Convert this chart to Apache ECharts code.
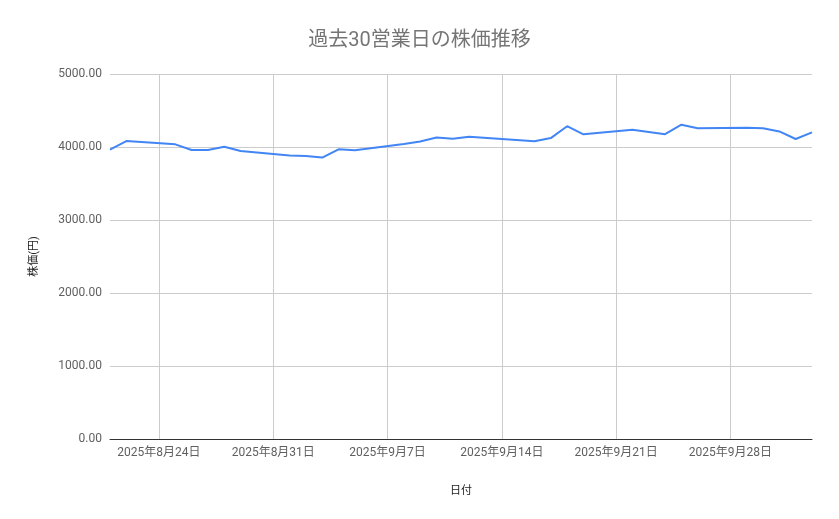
<!DOCTYPE html>
<html>
<head>
<meta charset="utf-8">
<title>過去30営業日の株価推移</title>
<script src="https://cdn.jsdelivr.net/npm/echarts@6/dist/echarts.min.js"></script>
<style>
  html, body { margin: 0; padding: 0; background: #fff; }
  #chart { width: 839px; height: 519px; }
</style>
</head>
<body>
<div id="chart"></div>
<script>
// Business days shown on the chart (9/15 and 9/23 are holidays)
const dates = [
    '2025-08-21', '2025-08-22', '2025-08-25', '2025-08-26', '2025-08-27',
    '2025-08-28', '2025-08-29', '2025-09-01', '2025-09-02', '2025-09-03',
    '2025-09-04', '2025-09-05', '2025-09-08', '2025-09-09', '2025-09-10',
    '2025-09-11', '2025-09-12', '2025-09-16', '2025-09-17', '2025-09-18',
    '2025-09-19', '2025-09-22', '2025-09-24', '2025-09-25', '2025-09-26',
    '2025-09-29', '2025-09-30', '2025-10-01', '2025-10-02', '2025-10-03',
];

// Closing price (円)
const prices = [
    3965, 4082, 4036, 3958, 3960,
    4003, 3945, 3883, 3877, 3855,
    3968, 3955, 4040, 4075, 4130,
    4112, 4141, 4080, 4122, 4285,
    4174, 4237, 4176, 4306, 4256,
    4263, 4256, 4213, 4110, 4201,
];

// Y axis ticks
const yTicks = [0, 1000, 2000, 3000, 4000, 5000];

const FONT = 'Roboto, "Noto Sans CJK JP", sans-serif';

/**
 * Build every calendar day between the first and last date,
 * so weekends keep their width on the axis.
 */
function buildCalendar(first, last) {
    const days = [];
    const end = Date.parse(last + 'T00:00:00Z');
    for (let t = Date.parse(first + 'T00:00:00Z'); t <= end; t += 86400000) {
        days.push(new Date(t).toISOString().slice(0, 10));
    }
    return days;
}

const calendar = buildCalendar(dates[0], dates[dates.length - 1]);
const priceByDate = new Map(dates.map((d, i) => [d, prices[i]]));
const seriesData = calendar.map(d => (priceByDate.has(d) ? priceByDate.get(d) : null));

// Gridlines and labels fall on Sundays
const isSunday = (index) => new Date(calendar[index] + 'T00:00:00Z').getUTCDay() === 0;

function formatDate(value) {
    const [y, m, d] = value.split('-').map(Number);
    return `${y}年${m}月${d}日`;
}

const chart = echarts.init(document.getElementById('chart'));

chart.setOption({
    backgroundColor: '#ffffff',
    textStyle: { fontFamily: FONT },
    title: {
        text: '過去30営業日の株価推移',
        left: 'center',
        top: 26,
        textStyle: {
            fontFamily: FONT,
            fontSize: 20,
            fontWeight: 'normal',
            color: '#757575',
        },
    },
    grid: {
        left: 110,
        right: 27,
        top: 74,
        bottom: 80,
    },
    xAxis: {
        type: 'category',
        data: calendar,
        boundaryGap: false,
        name: '日付',
        nameLocation: 'middle',
        nameGap: 47,
        nameTextStyle: { fontFamily: FONT, fontSize: 11, color: '#222' },
        axisLine: { show: true, lineStyle: { color: '#333', width: 1 } },
        axisTick: { show: false },
        axisLabel: {
            interval: (index) => isSunday(index),
            formatter: formatDate,
            color: '#5f5f5f',
            fontSize: 12,
            margin: 8,
        },
        splitLine: {
            show: true,
            interval: (index) => isSunday(index),
            lineStyle: { color: '#cccccc', width: 1 },
        },
    },
    yAxis: {
        type: 'value',
        min: yTicks[0],
        max: yTicks[yTicks.length - 1],
        interval: yTicks[1] - yTicks[0],
        name: '株価(円)',
        nameLocation: 'middle',
        nameGap: 70,
        nameRotate: 90,
        nameTextStyle: { fontFamily: FONT, fontSize: 11, color: '#222' },
        axisLine: { show: false },
        axisTick: { show: false },
        axisLabel: {
            formatter: (v) => v.toFixed(2),
            color: '#5f5f5f',
            fontSize: 12,
            margin: 8,
        },
        splitLine: { lineStyle: { color: '#cccccc', width: 1 } },
    },
    series: [
        {
            type: 'line',
            data: seriesData,
            connectNulls: true,
            showSymbol: false,
            symbol: 'none',
            lineStyle: { color: '#4285f4', width: 2 },
            itemStyle: { color: '#4285f4' },
            animation: false,
        },
    ],
});
</script>
</body>
</html>
